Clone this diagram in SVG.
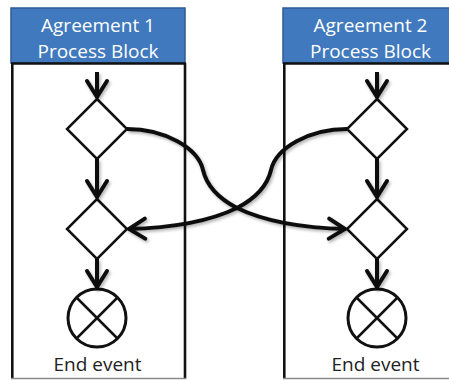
<svg xmlns="http://www.w3.org/2000/svg" width="449" height="380" viewBox="0 0 449 380">
  <style>
    .hdr { fill: #4079BD; stroke: #2C5C95; stroke-width: 1.5; }
    .hdrtxt { font-family: "Open Sans", "Liberation Sans", sans-serif; font-size: 19px; fill: #ffffff; text-anchor: middle; }
    .border { stroke: #111; stroke-width: 2.6; fill: none; }
    .bottom { stroke: #8a8a8a; stroke-width: 1.5; fill: none; }
    .gate { fill: #ffffff; stroke: #111; stroke-width: 2.5; stroke-linejoin: miter; }
    .endc { fill: #ffffff; stroke: #111; stroke-width: 3; }
    .endx { stroke: #111; stroke-width: 2.5; }
    .lbl { font-family: "Open Sans", "Liberation Sans", sans-serif; font-size: 19px; fill: #222; text-anchor: middle; }
    .flow { fill: none; stroke: #111; stroke-width: 4; marker-end: url(#chev); }
  </style>
  <defs>
    <marker id="chev" viewBox="-22 -13 26 26" refX="0" refY="0" markerWidth="26" markerHeight="26" markerUnits="userSpaceOnUse" orient="auto">
      <path d="M-17,-10 L-1,0 L-17,10" fill="none" stroke="#111" stroke-width="4" stroke-linejoin="miter" stroke-linecap="round"/>
    </marker>
    <filter id="sh" filterUnits="userSpaceOnUse" x="0" y="0" width="449" height="380">
      <feDropShadow dx="1.5" dy="2" stdDeviation="1.5" flood-color="#000" flood-opacity="0.3"/>
    </filter>
  </defs>

  <g id="block1">
    <rect class="hdr" x="11" y="8" width="174" height="55"/>
    <text class="hdrtxt" x="98" y="31.5">Agreement 1</text>
    <text class="hdrtxt" x="98" y="58">Process Block</text>
    <line class="border" x1="11" y1="63.5" x2="186" y2="63.5"/>
    <line class="border" x1="12.3" y1="63" x2="12.3" y2="379"/>
    <line class="border" x1="185" y1="63" x2="185" y2="379"/>
    <line class="bottom" x1="11" y1="378.5" x2="186" y2="378.5"/>
  </g>

  <g id="block2">
    <rect class="hdr" x="283" y="8" width="176" height="55"/>
    <text class="hdrtxt" x="370.5" y="31.5">Agreement 2</text>
    <text class="hdrtxt" x="370.5" y="58">Process Block</text>
    <line class="border" x1="283" y1="63.5" x2="460" y2="63.5"/>
    <line class="border" x1="284.3" y1="63" x2="284.3" y2="379"/>
    <line class="bottom" x1="283" y1="378.5" x2="460" y2="378.5"/>
  </g>

  <g id="gateway1a">
    <polygon class="gate" points="97,99 127,129 97,159 67,129"/>
  </g>
  <g id="gateway1b">
    <polygon class="gate" points="97,199 127,229 97,259 67,229"/>
  </g>
  <g id="end1">
    <circle class="endc" cx="97" cy="318" r="29"/>
    <line class="endx" x1="76.5" y1="297.5" x2="117.5" y2="338.5"/>
    <line class="endx" x1="117.5" y1="297.5" x2="76.5" y2="338.5"/>
    <text class="lbl" x="97.5" y="370.5">End event</text>
  </g>

  <g id="gateway2a">
    <polygon class="gate" points="377,99 407,129 377,159 347,129"/>
  </g>
  <g id="gateway2b">
    <polygon class="gate" points="377,199 407,229 377,259 347,229"/>
  </g>
  <g id="end2">
    <circle class="endc" cx="377" cy="318" r="29"/>
    <line class="endx" x1="356.5" y1="297.5" x2="397.5" y2="338.5"/>
    <line class="endx" x1="397.5" y1="297.5" x2="356.5" y2="338.5"/>
    <text class="lbl" x="375.5" y="370.5">End event</text>
  </g>

  <g id="connectors" filter="url(#sh)">
    <path class="flow" d="M97,72 L97,98"/>
    <path class="flow" d="M97,159 L97,198"/>
    <path class="flow" d="M97,259 L97,288"/>
    <path class="flow" d="M377,72 L377,98"/>
    <path class="flow" d="M377,159 L377,198"/>
    <path class="flow" d="M377,259 L377,288"/>
    <path class="flow" d="M127,129 C165,129 198,148 203,170 C206,183 214,196 237,208 C262,220 300,228 346,229"/>
    <path class="flow" d="M347,129 C309,129 276,148 271,170 C268,183 260,196 237,208 C212,220 174,228 128,229"/>
  </g>
</svg>
